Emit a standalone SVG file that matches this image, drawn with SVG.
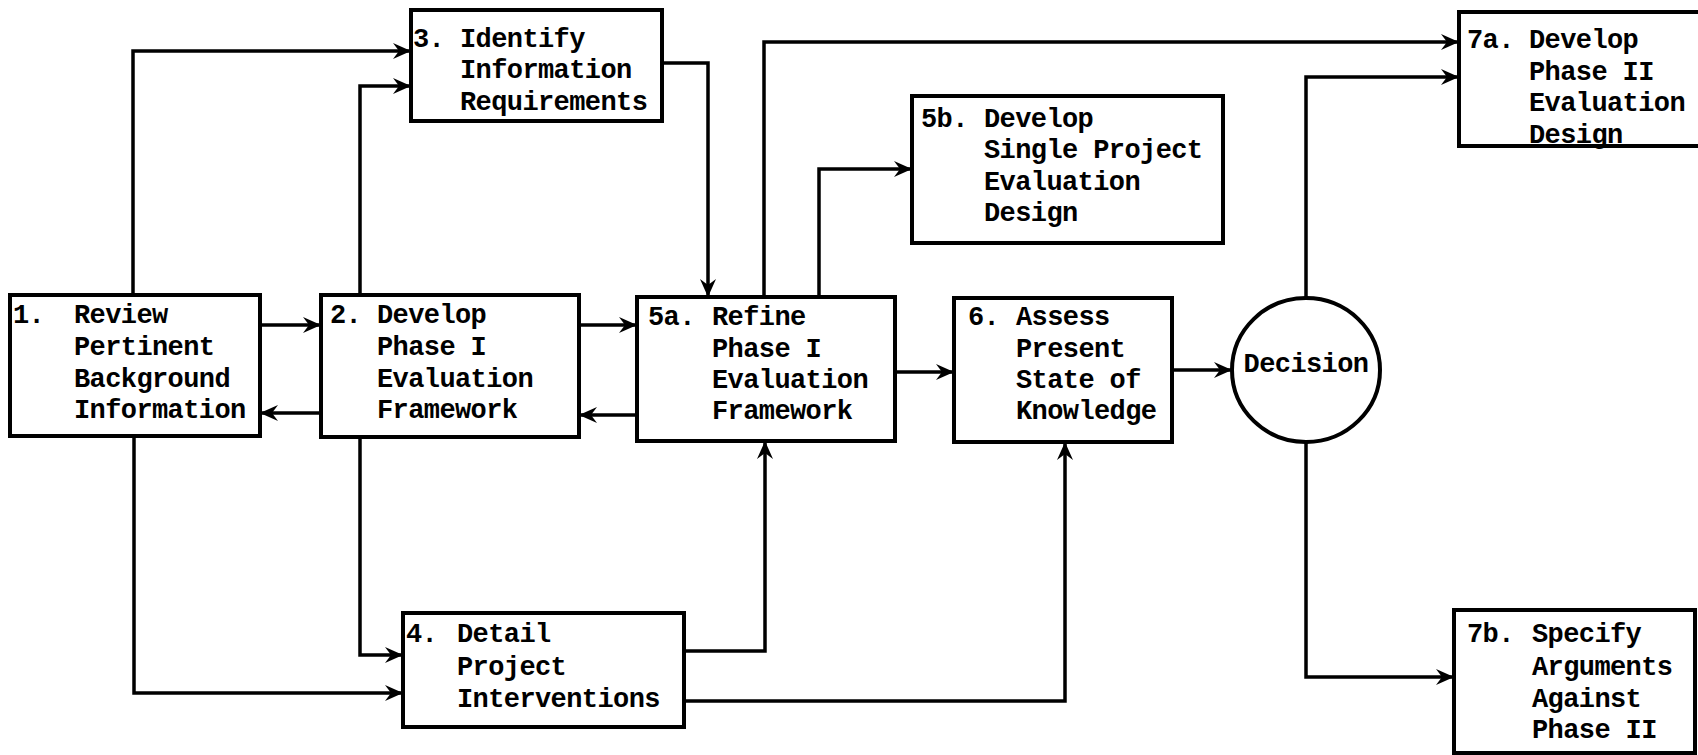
<svg xmlns="http://www.w3.org/2000/svg" width="1698" height="755" viewBox="0 0 1698 755">
<style>
.box{fill:#fff;stroke:#000;stroke-width:4}
.t{font-family:"Liberation Mono","DejaVu Sans Mono",monospace;font-size:27px;letter-spacing:-0.6px;font-weight:bold;fill:#000}
.c path{fill:none;stroke:#000;stroke-width:3.5;marker-end:url(#ah)}
</style>
<defs>
<marker id="ah" viewBox="0 0 18 16" refX="18" refY="8" markerWidth="18" markerHeight="16" markerUnits="userSpaceOnUse" orient="auto">
<path d="M0,0 L18,8 L0,16 L6,8 Z" fill="#000"/>
</marker>
</defs>
<rect width="1698" height="755" fill="#fff"/>
<g class="c" id="connectors">
<path d="M133,295 V51 H411"/>
<path d="M360,295 V86 H411"/>
<path d="M662,63 H708 V297"/>
<path d="M764,297 V42 H1459"/>
<path d="M819,297 V169 H912"/>
<path d="M260,325 H321"/>
<path d="M321,413 H260"/>
<path d="M579,325 H637"/>
<path d="M637,415 H579"/>
<path d="M895,372 H954"/>
<path d="M1172,370 H1232"/>
<path d="M1306,298 V77 H1459"/>
<path d="M1306,442 V677 H1454"/>
<path d="M134,436 V693 H403"/>
<path d="M360,437 V655 H403"/>
<path d="M684,651 H765 V441"/>
<path d="M684,701 H1065 V442"/>
</g>
<g id="n1">
<rect class="box" x="10" y="295" width="250" height="141"/>
<text class="t" x="13" y="323">1.</text>
<text class="t" x="74" y="323">Review</text>
<text class="t" x="74" y="355">Pertinent</text>
<text class="t" x="74" y="387">Background</text>
<text class="t" x="74" y="418">Information</text>
</g>
<g id="n2">
<rect class="box" x="321" y="295" width="258" height="142"/>
<text class="t" x="330" y="323">2.</text>
<text class="t" x="377" y="323">Develop</text>
<text class="t" x="377" y="355">Phase I</text>
<text class="t" x="377" y="387">Evaluation</text>
<text class="t" x="377" y="418">Framework</text>
</g>
<g id="n3">
<rect class="box" x="411" y="10" width="251" height="111"/>
<text class="t" x="413" y="47">3.</text>
<text class="t" x="460" y="47">Identify</text>
<text class="t" x="460" y="78">Information</text>
<text class="t" x="460" y="110">Requirements</text>
</g>
<g id="n4">
<rect class="box" x="403" y="613" width="281" height="114"/>
<text class="t" x="406" y="642">4.</text>
<text class="t" x="457" y="642">Detail</text>
<text class="t" x="457" y="675">Project</text>
<text class="t" x="457" y="707">Interventions</text>
</g>
<g id="n5a">
<rect class="box" x="637" y="297" width="258" height="144"/>
<text class="t" x="648" y="325">5a.</text>
<text class="t" x="712" y="325">Refine</text>
<text class="t" x="712" y="357">Phase I</text>
<text class="t" x="712" y="388">Evaluation</text>
<text class="t" x="712" y="419">Framework</text>
</g>
<g id="n5b">
<rect class="box" x="912" y="96" width="311" height="147"/>
<text class="t" x="921" y="127">5b.</text>
<text class="t" x="984" y="127">Develop</text>
<text class="t" x="984" y="158">Single Project</text>
<text class="t" x="984" y="190">Evaluation</text>
<text class="t" x="984" y="221">Design</text>
</g>
<g id="n6">
<rect class="box" x="954" y="298" width="218" height="144"/>
<text class="t" x="968" y="325">6.</text>
<text class="t" x="1016" y="325">Assess</text>
<text class="t" x="1016" y="357">Present</text>
<text class="t" x="1016" y="388">State of</text>
<text class="t" x="1016" y="419">Knowledge</text>
</g>
<g id="decision">
<ellipse class="box" cx="1306" cy="370" rx="74" ry="72"/>
<text class="t" x="1306" y="372" text-anchor="middle">Decision</text>
</g>
<g id="n7a">
<rect class="box" x="1459" y="12" width="260" height="134"/>
<text class="t" x="1467" y="48">7a.</text>
<text class="t" x="1529" y="48">Develop</text>
<text class="t" x="1529" y="80">Phase II</text>
<text class="t" x="1529" y="111">Evaluation</text>
<text class="t" x="1529" y="143">Design</text>
</g>
<g id="n7b">
<rect class="box" x="1454" y="610" width="241" height="143"/>
<text class="t" x="1467" y="642">7b.</text>
<text class="t" x="1532" y="642">Specify</text>
<text class="t" x="1532" y="675">Arguments</text>
<text class="t" x="1532" y="707">Against</text>
<text class="t" x="1532" y="738">Phase II</text>
</g>
</svg>
